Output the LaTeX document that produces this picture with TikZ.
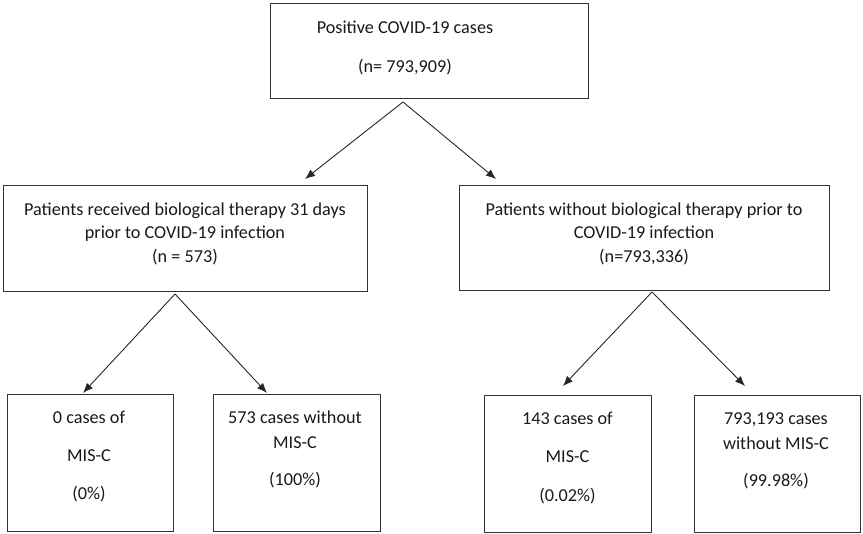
\documentclass[tikz,border=0pt]{standalone}
\usepackage{fontspec}
\setmainfont{Carlito}
\usetikzlibrary{arrows.meta}
\begin{document}
\begin{tikzpicture}[x=1pt,y=-1pt,
  box/.style={draw=black!80,line width=0.9pt,inner sep=0pt},
  txt/.style={anchor=base,inner sep=0pt,font=\fontsize{18.2}{21}\selectfont,text=black!90},
  arr/.style={draw=black!85,line width=0.9pt,-{Latex[length=10pt,width=8pt]}}]
\useasboundingbox (0,0) rectangle (863,534);
% boxes
\node[box,minimum width=318pt,minimum height=95pt] (top) at (429,50.5) {};
\node[box,minimum width=364pt,minimum height=106pt] (L) at (185,238) {};
\node[box,minimum width=370pt,minimum height=105pt] (R) at (644,237.5) {};
\node[box,minimum width=166pt,minimum height=137pt] (LL) at (90,462.5) {};
\node[box,minimum width=167pt,minimum height=137pt] (LR) at (296.5,462.5) {};
\node[box,minimum width=167pt,minimum height=137pt] (RL) at (567.5,463.5) {};
\node[box,minimum width=166pt,minimum height=137pt] (RR) at (777,463.5) {};
% texts
\node[txt] (t1) at (405,34) {Positive COVID-19 cases};
\node[txt] (t2) at (405,73) {(n= 793,909)};
\node[txt] (l1) at (185,216) {Patients received biological therapy 31 days};
\node[txt] (l2) at (185,239) {prior to COVID-19 infection};
\node[txt] (l3) at (185,263) {(n = 573)};
\node[txt] (r1) at (644,216) {Patients without biological therapy prior to};
\node[txt] (r2) at (644,239) {COVID-19 infection};
\node[txt] (r3) at (644,263) {(n=793,336)};
\node[txt] (a1) at (89,424) {0 cases of};
\node[txt] (a2) at (89,462) {MIS-C};
\node[txt] (a3) at (89,500) {(0\%)};
\node[txt] (b1) at (295,424) {573 cases without};
\node[txt] (b2) at (295,449) {MIS-C};
\node[txt] (b3) at (295,486) {(100\%)};
\node[txt] (c1) at (567.5,425) {143 cases of};
\node[txt] (c2) at (567.5,463) {MIS-C};
\node[txt] (c3) at (567.5,502) {(0.02\%)};
\node[txt] (d1) at (776,425) {793,193 cases};
\node[txt] (d2) at (776,450) {without MIS-C};
\node[txt] (d3) at (776,487) {(99.98\%)};
% connector points
\coordinate (p0) at (403,102);
\coordinate (e1) at (305,179);
\coordinate (e2) at (496,179);
\coordinate (p1) at (175,294);
\coordinate (e3) at (83,393);
\coordinate (e4) at (267,393);
\coordinate (p2) at (652,292);
\coordinate (e5) at (563,386);
\coordinate (e6) at (745,386);
\draw[arr] (p0) -- (e1);
\draw[arr] (p0) -- (e2);
\draw[arr] (p1) -- (e3);
\draw[arr] (p1) -- (e4);
\draw[arr] (p2) -- (e5);
\draw[arr] (p2) -- (e6);
\end{tikzpicture}
\end{document}
